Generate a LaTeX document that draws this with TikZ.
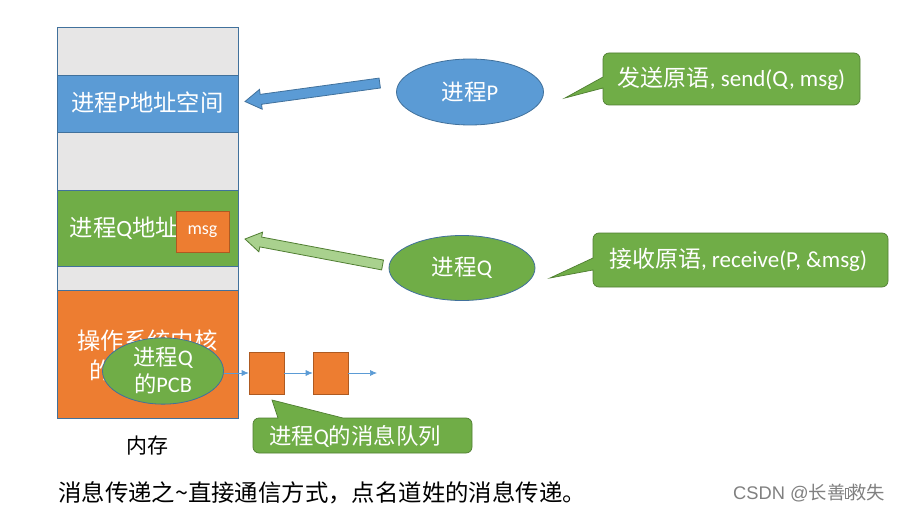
\documentclass[tikz,border=0pt]{standalone}
\usepackage{fontspec}
\setmainfont{Carlito}
\newfontfamily\cjk{Noto Sans CJK SC}
\newcommand\zh[1]{{\cjk #1}}
\usetikzlibrary{arrows.meta,shapes.geometric}
\definecolor{oblue}{HTML}{5B9BD5}
\definecolor{obluedk}{HTML}{41719C}
\definecolor{ogreen}{HTML}{70AD47}
\definecolor{ogreendk}{HTML}{507E32}
\definecolor{oorange}{HTML}{ED7D31}
\definecolor{oorangedk}{HTML}{AE5A21}
\definecolor{ogray}{HTML}{E7E6E6}
\definecolor{olgreen}{HTML}{A9D18E}
\begin{document}
\begin{tikzpicture}[x=1pt,y=-1pt,
  seg/.style={draw=obluedk,line width=0.7pt,inner sep=0pt,outer sep=0pt,minimum width=181pt},
  wtxt/.style={text=white,inner sep=0pt},
  ell/.style={ellipse,draw=obluedk,line width=0.8pt,inner sep=0pt},
  qbox/.style={draw=oorangedk,fill=oorange,line width=0.6pt,minimum width=35pt,minimum height=42pt,inner sep=0pt},
  callout/.style={fill=ogreen,draw=ogreendk,line width=0.7pt},
  qarrow/.style={draw=oblue,line width=0.7pt,-{Latex[length=7pt,width=6pt]}},
  blockP/.style={fill=oblue,draw=obluedk,line width=0.8pt},
  blockQ/.style={fill=olgreen,draw=ogreendk,line width=0.8pt}]
\useasboundingbox (0,0) rectangle (901,513);
\fill[white] (0,0) rectangle (901,513);

% memory column
\node[seg,fill=ogray,minimum height=48pt] (g1) at (147.5,51) {};
\node[seg,fill=oblue,minimum height=57pt] (pspace) at (147.5,103.5) {};
\node[seg,fill=ogray,minimum height=58pt] (g2) at (147.5,161) {};
\node[seg,fill=ogreen,minimum height=76pt] (qspace) at (147.5,228) {};
\node[seg,fill=ogray,minimum height=24pt] (g3) at (147.5,278) {};
\node[seg,fill=oorange,minimum height=128pt] (kernel) at (147.5,354) {};

\node[wtxt,font=\fontsize{23.3}{27}\selectfont] (ptxt) at (147.5,103) {\zh{进程}P\zh{地址空间}};
\node[wtxt,font=\fontsize{23.3}{27}\selectfont] (qtxt) at (147.5,228) {\zh{进程}Q\zh{地址空间}};
\node[wtxt,font=\fontsize{23.3}{30}\selectfont,align=center] (ktxt) at (147.5,356) {\zh{操作系统内核}\\\zh{的地址空间}};

\node[draw=oorangedk,fill=oorange,line width=0.7pt,minimum width=53pt,minimum height=41pt,inner sep=0pt,text=white,font=\fontsize{18}{21}\selectfont] (msg) at (202.5,231.5) {msg};

% PCB and queue
\node[ell,fill=ogreen,minimum width=121pt,minimum height=66pt,text=white,align=center,font=\fontsize{22.3}{27}\selectfont] (pcb) at (163,371) {\zh{进程}Q\\\zh{的}PCB};
\node[qbox] (b1) at (266.5,373) {};
\node[qbox] (b2) at (330.5,373) {};
\coordinate (qend) at (377,373);
\draw[qarrow] (pcb.east |- b1.west) -- (b1.west);
\draw[qarrow] (b1.east) -- (b2.west);
\draw[qarrow] (b2.east) -- (qend);

% processes
\node[ell,fill=oblue,minimum width=147pt,minimum height=66pt,text=white,font=\fontsize{22.5}{26}\selectfont] (P) at (470,92) {\zh{进程}P};
\node[ell,fill=ogreen,minimum width=146pt,minimum height=65pt,text=white,font=\fontsize{22.5}{26}\selectfont] (Q) at (462,268) {\zh{进程}Q};

% block arrows
\begin{scope}[shift={(245,101.5)},rotate=7.8]
  \draw[blockP] (0,0) -- (16,10) -- (16,5) -- (136,5) -- (136,-5) -- (16,-5) -- (16,-10) -- cycle;
\end{scope}
\begin{scope}[shift={(245,239)},rotate=-10.7]
  \draw[blockQ] (0,0) -- (16,10) -- (16,5) -- (140,5) -- (140,-5) -- (16,-5) -- (16,-10) -- cycle;
\end{scope}

% callouts
\draw[callout] (603,77) [rounded corners=6pt] -- (603,53) -- (860,53) -- (860,105) -- (603,105) [sharp corners] -- (603,88) -- (565,98) -- cycle;
\node[wtxt,font=\fontsize{23}{27}\selectfont] (ctP) at (731.5,79) {\zh{发送原语}, send(Q, msg)};

\draw[callout] (593,258) [rounded corners=6pt] -- (593,233) -- (888,233) -- (888,287) -- (593,287) [sharp corners] -- (593,270) -- (550,278) -- cycle;
\node[wtxt,font=\fontsize{23}{27}\selectfont] (ctQ) at (738,260) {\zh{接收原语}, receive(P, \&msg)};

\draw[callout] (343,418) [rounded corners=6pt] -- (472,418) -- (472,453) -- (253,453) -- (253,418) [sharp corners] -- (278,418) -- (272,400) -- cycle;
\node[wtxt,font=\fontsize{22.4}{26}\selectfont] (ctM) at (355,436) {\zh{进程}Q\zh{的消息队列}};

% labels
\node[inner sep=0pt,font=\cjk\fontsize{21}{25}\selectfont] (mem) at (147,446) {内存};
\node[inner sep=0pt,anchor=west,font=\cjk\fontsize{23.4}{27}\selectfont] (cap) at (58,493) {消息传递之\char"007E直接通信方式，点名道姓的消息传递。};
\node[inner sep=0pt,anchor=west,text=black!50,font=\fontsize{18.3}{21}\selectfont] (csdn) at (733,493) {\fontspec{Liberation Sans}CSDN @\zh{长善}{\setlength\fboxsep{0pt}\setlength\fboxrule{0.4pt}\raisebox{1pt}{\fbox{\rule{0pt}{10pt}\hspace{2pt}}}}\zh{救失}};
\end{tikzpicture}
\end{document}
